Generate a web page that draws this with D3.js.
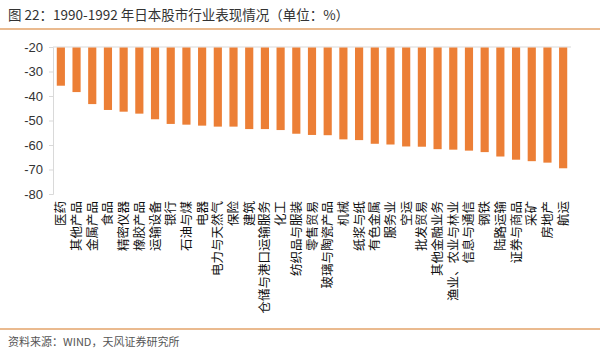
<!DOCTYPE html>
<html><head><meta charset="utf-8">
<script src="https://cdn.jsdelivr.net/npm/d3@7"></script>
<style>body{margin:0;background:#fff;}svg{display:block;font-family:"Noto Sans CJK SC","Liberation Sans",sans-serif;}</style>
</head><body>
<svg id="c" width="600" height="355"></svg>
<script>
const categories = ["医药","其他产品","金属产品","食品","精密仪器","橡胶产品","运输设备","银行","石油与煤","电器","电力与天然气","保险","建筑","仓储与港口运输服务","化工","纺织品与服装","零售贸易","玻璃与陶瓷产品","机械","纸浆与纸","有色金属","服务业","空运","批发贸易","其他金融业务","渔业、农业与林业","信息与通信","钢铁","陆路运输","证券与商品","采矿","房地产","航运"];
const values = [-35.8,-38.4,-43.3,-45.7,-46.4,-47.2,-49.5,-51.4,-51.7,-52.1,-52.5,-52.5,-53.5,-53.5,-53.9,-55.4,-55.9,-56.0,-57.7,-58.0,-59.5,-59.8,-60.6,-60.7,-61.7,-61.9,-62.3,-62.9,-64.7,-66.0,-66.6,-67.2,-69.5];
const yTicks = [-20,-30,-40,-50,-60,-70,-80];
const title = "图 22：1990-1992 年日本股市行业表现情况（单位：%）";
const source = "资料来源：WIND，天风证券研究所";

const svg = d3.select("#c");
const barColor = "#ec7f36";
const lineColor = "#e3a36a";

svg.append("text").attr("x",8).attr("y",20).attr("font-size",13.5).attr("fill","#333").text(title);
svg.append("line").attr("x1",0).attr("x2",600).attr("y1",29).attr("y2",29).attr("stroke",lineColor).attr("stroke-width",1.5);
svg.append("line").attr("x1",0).attr("x2",600).attr("y1",329).attr("y2",329).attr("stroke",lineColor).attr("stroke-width",1.5);
svg.append("text").attr("x",8).attr("y",346).attr("font-size",11).attr("fill","#555").text(source);

const x = d3.scaleBand().domain(categories).range([53,571]).paddingInner(0.48).paddingOuter(0.24);
const y = d3.scaleLinear().domain([-80,-20]).range([194,47]);

// y axis
const ya = svg.append("g").attr("transform","translate(53,0)")
  .call(d3.axisLeft(y).tickValues(yTicks).tickSize(4).tickFormat(d=>String(d)));
ya.select(".domain").attr("stroke","#d9d9d9");
ya.selectAll(".tick line").attr("stroke","#d9d9d9");
ya.selectAll(".tick text").attr("font-size",13).attr("fill","#333").attr("x",-10).attr("font-family","Liberation Sans, Arial, sans-serif");

// baseline at -20
svg.append("line").attr("x1",53).attr("x2",571).attr("y1",y(-20)).attr("y2",y(-20)).attr("stroke","#d9d9d9");

svg.append("g").selectAll("rect").data(values).join("rect")
  .attr("x",(d,i)=>x(categories[i]))
  .attr("width",x.bandwidth())
  .attr("y",y(-20)+0.5)
  .attr("height",d=>y(d)-y(-20)-0.5)
  .attr("fill",barColor);

// category labels
svg.append("g").selectAll("text").data(categories).join("text")
  .attr("transform",d=>`translate(${x(d)+x.bandwidth()/2+4.5},201) rotate(-90)`)
  .attr("text-anchor","end")
  .attr("font-size",12.5)
  .attr("fill","#111")
  .text(d=>d);
</script>
</body></html>
